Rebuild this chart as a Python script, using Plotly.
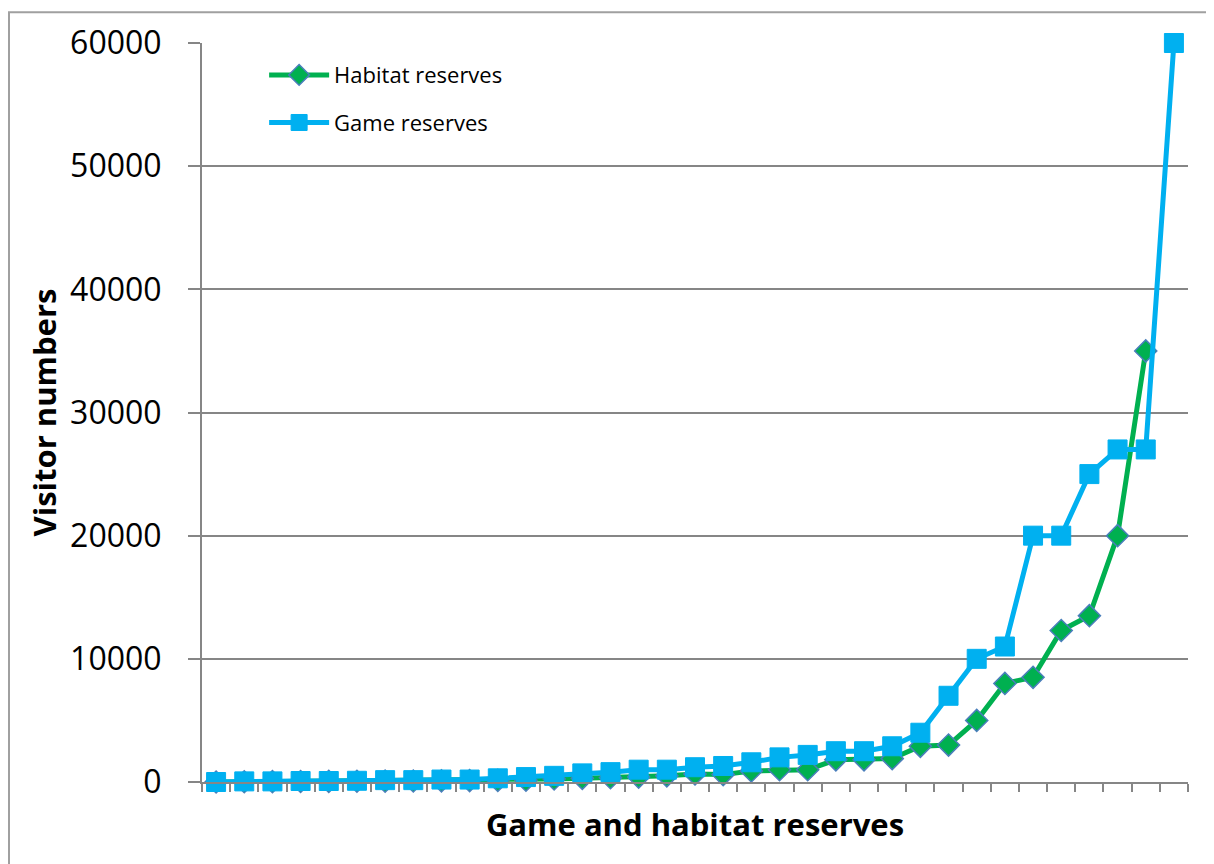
import plotly.graph_objects as go

categories = list(range(35))
habitat = [0, 20, 30, 40, 50, 60, 70, 80, 100, 120, 130, 150, 250, 300, 350,
           400, 500, 650, 600, 900, 1000, 1000, 1800, 1800, 1900, 2900, 3000,
           5000, 8000, 8500, 12300, 13500, 20000, 35000]
game = [0, 50, 50, 80, 80, 100, 150, 150, 200, 200, 300, 400, 500, 700, 800,
        1000, 1000, 1200, 1300, 1600, 2000, 2200, 2500, 2500, 2900, 4000, 7000,
        10000, 11000, 20000, 20000, 25000, 27000, 27000, 60000]
y_ticks = [0, 10000, 20000, 30000, 40000, 50000, 60000]

fig = go.Figure()
fig.add_trace(go.Scatter(
    x=categories[:len(habitat)], y=habitat, name="Habitat reserves",
    mode="lines+markers", legendgroup="h",
    line=dict(color="#00B050", width=5),
    marker=dict(symbol="diamond", size=17, color="#00B050",
                line=dict(color="#4A7EBB", width=1.5)),
    cliponaxis=False))
fig.add_trace(go.Scatter(
    x=categories, y=game, name="Game reserves",
    mode="lines+markers", legendgroup="g",
    line=dict(color="#00B0F0", width=5),
    marker=dict(symbol="square", size=19, color="#00B0F0",
                line=dict(color="#00B0F0", width=1)),
    cliponaxis=False))

fig.update_layout(
    width=1214, height=864,
    margin=dict(l=194, r=34, t=32, b=90),
    paper_bgcolor="white", plot_bgcolor="white",
    font=dict(family="Open Sans", color="black"),
    showlegend=True,
    legend=dict(x=0.063, y=0.985, xanchor="left", yanchor="top",
                font=dict(size=22, family="Open Sans"),
                bgcolor="rgba(0,0,0,0)", itemwidth=60,
                tracegroupgap=16),
    xaxis=dict(range=[-0.5, 34.5], tickmode="linear", tick0=-0.5, dtick=1,
               showticklabels=False, ticks="outside", ticklen=8,
               tickcolor="#868686", tickwidth=2,
               showline=True, linecolor="#868686", linewidth=2,
               showgrid=False, zeroline=False,
               title=dict(text="<b>Game and habitat reserves</b>",
                          font=dict(size=31, family="Open Sans"), standoff=23)),
    yaxis=dict(range=[0, 60000], tickvals=y_ticks,
               ticktext=[str(v) for v in y_ticks],
               tickfont=dict(size=32, family="Open Sans"),
               ticklabelstandoff=20,
               ticks="outside", ticklen=12, tickcolor="#868686", tickwidth=2,
               showline=True, linecolor="#868686", linewidth=2,
               showgrid=True, gridcolor="#868686", gridwidth=1.5,
               zeroline=False,
               title=dict(text="<b>Visitor numbers</b>",
                          font=dict(size=31, family="Open Sans"), standoff=4)),
)

fig.add_shape(type="rect", xref="paper", yref="paper",
              x0=(9 - 202) / 986, x1=(1230 - 202) / 986,
              y0=(782 - 880) / 742, y1=(782 - 9) / 742,
              line=dict(color="#A0A0A0", width=2), fillcolor="rgba(0,0,0,0)",
              layer="below")

fig.write_html("out.html")
